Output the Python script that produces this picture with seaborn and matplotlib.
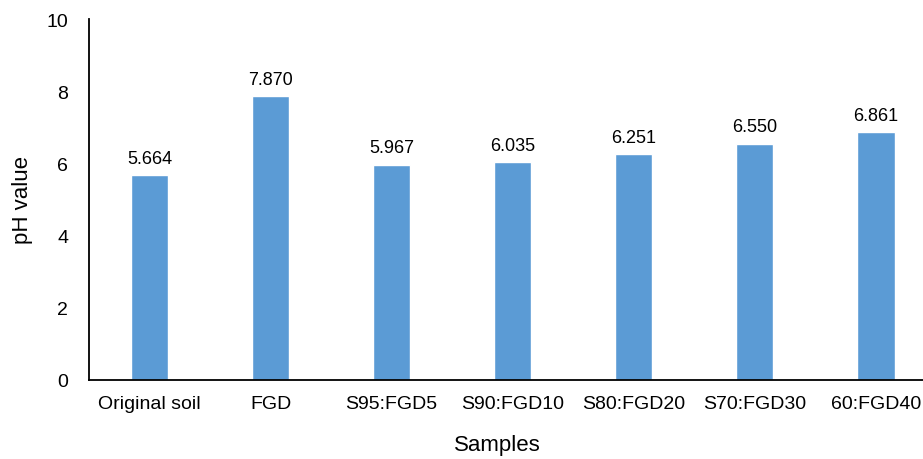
import matplotlib
matplotlib.use("Agg")
import matplotlib.pyplot as plt
import seaborn as sns
import pandas as pd

samples = ["Original soil", "FGD", "S95:FGD5", "S90:FGD10", "S80:FGD20", "S70:FGD30", "60:FGD40"]
ph_values = [5.664, 7.870, 5.967, 6.035, 6.251, 6.550, 6.861]
y_ticks = [0, 2, 4, 6, 8, 10]

sns.set_style("white")
plt.rcParams["font.family"] = ["Liberation Sans", "DejaVu Sans"]
plt.rcParams["text.color"] = "black"
plt.rcParams["axes.labelcolor"] = "black"

df = pd.DataFrame({"Samples": samples, "pH value": ph_values})

fig = plt.figure(figsize=(9.23, 4.6), dpi=100)
ax = fig.add_axes([0.0964, 0.172, 0.918, 0.7845])

sns.barplot(data=df, x="Samples", y="pH value", color="#5B9BD5", width=0.31,
            saturation=1, ax=ax)

ax.set_xlim(-0.5, len(samples) - 0.5)
ax.set_ylim(0, 10)
ax.set_yticks(y_ticks)
ax.tick_params(axis="both", length=0, labelsize=14, colors="black")
ax.tick_params(axis="x", pad=11)
ax.tick_params(axis="y", pad=15)

for side in ["top", "right"]:
    ax.spines[side].set_visible(False)
for side in ["left", "bottom"]:
    ax.spines[side].set_color("black")
    ax.spines[side].set_linewidth(1.3)

labels = [f"{v:.3f}" for v in ph_values]
ax.bar_label(ax.containers[0], labels=labels, padding=6, fontsize=13, color="black")

ax.set_xlabel("Samples", fontsize=16)
ax.set_ylabel("pH value", fontsize=16)
ax.xaxis.set_label_coords((497 - 89) / 847, -0.15)
ax.yaxis.set_label_coords(-0.066, 0.5)

fig.savefig("out.png", dpi=100)
